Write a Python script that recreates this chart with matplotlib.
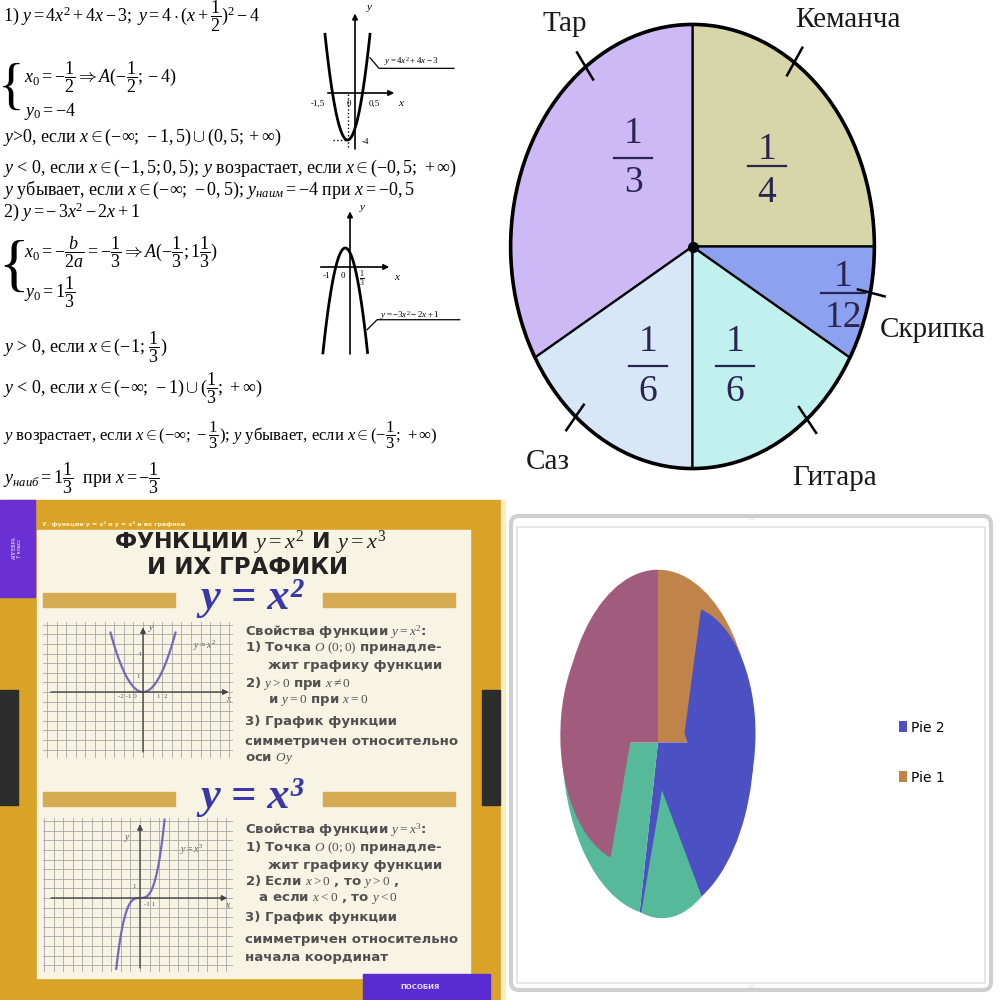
import matplotlib
matplotlib.use('Agg')
import matplotlib.pyplot as plt
from matplotlib.patches import Rectangle, Circle, FancyBboxPatch
import numpy as np

plt.rcParams['font.family'] = ['Liberation Serif', 'DejaVu Serif']
plt.rcParams['mathtext.fontset'] = 'custom'
plt.rcParams['mathtext.rm'] = 'Liberation Serif'
plt.rcParams['mathtext.it'] = 'Liberation Serif:italic'
plt.rcParams['mathtext.bf'] = 'Liberation Serif:bold'

# --- data ---
# top-right: доли инструментов (против часовой стрелки от 0°)
instr_names = ['Кеманча', 'Тар', 'Саз', 'Гитара', 'Скрипка']
instr_num = [1, 1, 1, 1, 1]
instr_den = [4, 3, 6, 6, 12]
instr_colors = ['#d7d6a8', '#cdb9f6', '#d7e7f8', '#c0f1ef', '#8ca1ef']
instr_tick_angle = [56, 126, 230, -51, -12]

# bottom-right: two overlaid pies (clockwise from 12 o'clock)
pie1_vals = [90, 101, 79, 90]
pie2_vals = [13.4, 132.6, 51, 163]
pie_colors = ['#c0834a', '#4b50c2', '#55b99a', '#a15c7d']

# mini plots
par1_x = np.linspace(-2.0, 1.0, 120)
par2_x = np.linspace(-1.9, 1.23, 120)
sq_x = np.linspace(-2.5, 2.5, 120)
cub_x = np.linspace(-1.76, 1.82, 120)

fig = plt.figure(figsize=(10, 10), dpi=100)
bg = fig.add_axes([0, 0, 1, 1])
bg.set_xlim(0, 1000)
bg.set_ylim(1000, 0)
bg.axis('off')


def px_axes(x0, y0, x1, y1):
    return fig.add_axes([x0 / 1000, 1 - y1 / 1000, (x1 - x0) / 1000, (y1 - y0) / 1000])


def mini_axes(box, origin, sx, sy):
    x0, y0, x1, y1 = box
    ox, oy = origin
    ax = px_axes(x0, y0, x1, y1)
    ax.set_xlim((x0 - ox) / sx, (x1 - ox) / sx)
    ax.set_ylim((oy - y1) / sy, (oy - y0) / sy)
    ax.patch.set_alpha(0)
    for s in ax.spines.values():
        s.set_visible(False)
    ax.tick_params(length=0, labelbottom=False, labelleft=False)
    return ax


def arrow(ax, p0, p1, color='k', lw=1.2):
    ax.annotate('', xy=p1, xytext=p0,
                arrowprops=dict(arrowstyle='-|>', lw=lw, color=color, mutation_scale=8))


# ================= top-left: решения =================
fs = 13
bg.text(3, 16, r"1) $y = 4x^2 + 4x - 3;\;y = 4\cdot(x + \dfrac{1}{2})^2 - 4$", fontsize=fs, va='center')
bg.text(-2, 90, '{', fontsize=40, va='center', ha='left', fontweight='light')
bg.text(24, 77, r"$x_0 = -\dfrac{1}{2} \Rightarrow A(-\dfrac{1}{2};-4)$", fontsize=fs, va='center')
bg.text(24, 112, r"$y_0 = -4$", fontsize=fs, va='center')
bg.text(3, 137, r"$y$>0, если $x \in (-\infty;\,-1,5) \cup (0,5;+\infty)$", fontsize=fs, va='center')
bg.text(3, 168, r"$y$ < 0, если $x \in (-1,5;0,5)$; $y$ возрастает, если $x \in (-0,5;\,+\infty)$",
        fontsize=fs, va='center')
bg.text(3, 190, r"$y$ убывает, если $x \in (-\infty;\,-0,5)$; $y_{наим} = -4$ при $x = -0,5$",
        fontsize=fs, va='center')
bg.text(3, 212, r"2) $y = -\,3x^2 - 2x + 1$", fontsize=fs, va='center')
bg.text(-2, 270, '{', fontsize=46, va='center', ha='left', fontweight='light')
bg.text(24, 252, r"$x_0 = -\dfrac{b}{2a} = -\dfrac{1}{3} \Rightarrow A(-\dfrac{1}{3};1\dfrac{1}{3})$",
        fontsize=fs, va='center')
bg.text(24, 292, r"$y_0 = 1\dfrac{1}{3}$", fontsize=fs, va='center')
bg.text(3, 347, r"$y$ > 0, если $x \in (-1;\,\dfrac{1}{3})$", fontsize=fs, va='center')
bg.text(3, 388, r"$y$ < 0, если $x \in (-\infty;\,-1) \cup (\dfrac{1}{3};\,+\infty)$", fontsize=fs, va='center')
bg.text(3, 435, r"$y$ возрастает, если $x \in (-\infty;\,-\dfrac{1}{3})$; $y$ убывает, если $x \in (-\dfrac{1}{3};\,+\infty)$",
        fontsize=12, va='center')
bg.text(3, 478, r"$y_{наиб} = 1\dfrac{1}{3}$  при $x = -\dfrac{1}{3}$", fontsize=fs, va='center')

# parabola 1
a1 = mini_axes((305, 5, 400, 155), (355, 93), 15, 11.75)
arrow(a1, (-2.0, 0), (2.8, 0))
arrow(a1, (0, -5.0), (0, 7.0))
a1.plot([-0.5, -0.5], [-4.6, 0], ls=':', color='k', lw=1)
a1.plot([-1.5, -0.5], [-4, -4], ls=':', color='k', lw=1)
a1.plot(par1_x, 4 * par1_x ** 2 + 4 * par1_x - 3, color='k', lw=2)
a1.plot([1.0, 1.6, 6.6], [3.0, 2.1, 2.1], color='k', lw=0.9, clip_on=False)
for t, x, y in [('-1,5', 318, 104), ('0', 349, 104), ('0,5', 374, 104), ('-4', 365, 142)]:
    bg.text(x, y, t, fontsize=6.5, ha='center', va='center')
bg.text(402, 104, '$x$', fontsize=8, ha='center', va='center')
bg.text(370, 8, '$y$', fontsize=8, ha='center', va='center')
bg.text(384, 62, r'$y = 4x^2 + 4x - 3$', fontsize=6.5, ha='left', va='center')

# parabola 2
a2 = mini_axes((315, 200, 400, 362), (350, 267), 14.25, 14.25)
arrow(a2, (-2.25, 0), (2.95, 0))
arrow(a2, (0, -6.3), (0, 4.1))
a2.plot(par2_x, -3 * par2_x ** 2 - 2 * par2_x + 1, color='k', lw=2)
a2.plot([1.2, 1.9, 7.7], [-4.4, -3.7, -3.7], color='k', lw=0.9, clip_on=False)
for t, x, y in [('-1', 326, 276), ('0', 343, 276)]:
    bg.text(x, y, t, fontsize=6.5, ha='center', va='center')
bg.text(362, 279, r'$\frac{1}{3}$', fontsize=8, ha='center', va='center')
bg.text(398, 278, '$x$', fontsize=8, ha='center', va='center')
bg.text(363, 208, '$y$', fontsize=8, ha='center', va='center')
bg.text(380, 316, r'$y = -3x^2 - 2x + 1$', fontsize=6.5, ha='left', va='center')

# ================= bottom-left: плакат =================
gold = '#d8a326'
bg.add_patch(Rectangle((0, 500), 500, 500, color=gold, zorder=0))
bg.add_patch(Rectangle((37, 530), 433, 448, color='#f8f4e4', zorder=1))
bg.add_patch(Rectangle((0, 500), 35, 97, color='#6a30d4', zorder=2))
bg.add_patch(Rectangle((0, 690), 18, 115, color='#2c2c2c', zorder=2))
bg.add_patch(Rectangle((482, 690), 18, 115, color='#2c2c2c', zorder=2))
bg.add_patch(Rectangle((363, 974), 127, 26, color='#5b2bd2', zorder=2))
for yb in (593, 792):
    bg.add_patch(Rectangle((43, yb), 132, 14, color='#d6aa50', zorder=2))
    bg.add_patch(Rectangle((323, yb), 132, 14, color='#d6aa50', zorder=2))
bg.text(17, 548, 'АЛГЕБРА\n7 класс', fontsize=3.5, color='white', rotation=90,
        ha='center', va='center', family='DejaVu Sans', zorder=3)
bg.text(42, 524, 'У. функции y = x² и y = x³ и их графики', fontsize=4.5, color='#fff3c0',
        va='center', family='DejaVu Sans', fontweight='bold', zorder=3)
bg.text(420, 987, 'ПОСОБИЯ', fontsize=5, color='#e8e0ff', ha='center', va='center',
        family='DejaVu Sans', fontweight='bold', zorder=3)

bg.text(250, 543, r'ФУНКЦИИ $y = x^2$ И $y = x^3$', fontsize=16, fontweight='bold',
        family='DejaVu Sans', color='#222222', ha='center', va='center', zorder=3)
bg.text(248, 568, 'И ИХ ГРАФИКИ', fontsize=16.5, fontweight='bold', family='DejaVu Sans',
        color='#222222', ha='center', va='center', zorder=3)
bg.text(252, 598, 'y = x²', fontsize=32, fontstyle='italic', fontweight='bold',
        color='#3838aa', ha='center', va='center', zorder=3)
bg.text(252, 797, 'y = x³', fontsize=32, fontstyle='italic', fontweight='bold',
        color='#3838aa', ha='center', va='center', zorder=3)

props_sq = [r'Свойства функции $y = x^2$:', r'1) Точка $O\ (0;0)$ принадле-', '     жит графику функции',
            r'2) $y > 0$ при $x \neq 0$', r'     и $y = 0$ при $x = 0$', '3) График функции',
            'симметричен относительно', r'оси $Oy$']
props_sq_y = [632, 648, 666, 684, 700, 722, 742, 758]
props_cb = [r'Свойства функции $y = x^3$:', r'1) Точка $O\ (0;0)$ принадле-', '     жит графику функции',
            r'2) Если $x > 0$ , то $y > 0$ ,', r'   а если $x < 0$ , то $y < 0$', '3) График функции',
            'симметричен относительно', 'начала координат']
props_cb_y = [830, 848, 866, 882, 898, 918, 940, 958]
for lines, ys in ((props_sq, props_sq_y), (props_cb, props_cb_y)):
    for t, y in zip(lines, ys):
        bg.text(245, y, t, fontsize=9.5, family='DejaVu Sans', fontweight='bold',
                color='#505050', va='center', zorder=3)


def grid_axes(box, origin, sx, sy):
    ax = mini_axes(box, origin, sx, sy)
    xs, ys = 9.6 / sx, 9.6 / sy
    ax.set_xticks(np.arange(-30, 30) * xs)
    ax.set_yticks(np.arange(-30, 30) * ys)
    ax.set_xlim((box[0] - origin[0]) / sx, (box[2] - origin[0]) / sx)
    ax.set_ylim((origin[1] - box[3]) / sy, (origin[1] - box[1]) / sy)
    ax.grid(True, color='#a6a6a6', lw=0.6)
    ax.set_axisbelow(True)
    return ax


g1 = grid_axes((43, 622, 233, 758), (143, 692), 13, 9.5)
arrow(g1, (-7.3, 0), (6.8, 0), color='#444444', lw=1)
arrow(g1, (0, -6.6), (0, 7.1), color='#444444', lw=1)
g1.plot(sq_x, sq_x ** 2, color='#7468b8', lw=1.6)
bg.text(205, 646, r'$y = x^2$', fontsize=7, color='#555555', ha='center', va='center', zorder=3)
bg.text(152, 628, '$y$', fontsize=7, color='#555555', ha='center', va='center', zorder=3)
bg.text(229, 700, '$x$', fontsize=7, color='#555555', ha='center', va='center', zorder=3)
bg.text(140, 654, '4', fontsize=5, color='#555555', ha='center', va='center', zorder=3)
bg.text(138, 677, '1', fontsize=5, color='#555555', ha='center', va='center', zorder=3)
bg.text(127, 697, '-2 -1 0', fontsize=5, color='#555555', ha='center', va='center', zorder=3)
bg.text(162, 697, '1  2', fontsize=5, color='#555555', ha='center', va='center', zorder=3)

g2 = grid_axes((43, 818, 233, 972), (140, 898), 13.5, 13)
arrow(g2, (-6.8, 0), (6.67, 0), color='#444444', lw=1)
arrow(g2, (0, -5.6), (0, 5.9), color='#444444', lw=1)
g2.plot(cub_x, cub_x ** 3, color='#7468b8', lw=1.6)
bg.text(192, 850, r'$y = x^3$', fontsize=7, color='#555555', ha='center', va='center', zorder=3)
bg.text(128, 838, '$y$', fontsize=7, color='#555555', ha='center', va='center', zorder=3)
bg.text(228, 905, '$x$', fontsize=7, color='#555555', ha='center', va='center', zorder=3)
bg.text(134, 886, '1', fontsize=5, color='#555555', ha='center', va='center', zorder=3)
bg.text(150, 905, '-1 1', fontsize=5, color='#555555', ha='center', va='center', zorder=3)

# ================= top-right: круговая диаграмма =================
pa = px_axes(507, 20, 878, 473)
fracs = [n / d for n, d in zip(instr_num, instr_den)]
pa.pie(fracs, colors=instr_colors, startangle=0, counterclock=True,
       wedgeprops=dict(edgecolor='k', linewidth=1.6))
pa.add_patch(Circle((0, 0), 1, fill=False, lw=2.6, color='k'))
pa.plot([0], [0], 'o', color='k', ms=7)
for ang in instr_tick_angle:
    r = np.radians(ang)
    pa.plot([0.93 * np.cos(r), 1.08 * np.cos(r)], [0.93 * np.sin(r), 1.08 * np.sin(r)],
            color='k', lw=1.8, clip_on=False)
pa.set_aspect('auto')
pa.set_xlim(-1.02, 1.02)
pa.set_ylim(-1.02, 1.02)

# ================= bottom-right: Pie 1 / Pie 2 =================
bg.add_patch(FancyBboxPatch((511, 516), 480, 474, boxstyle='round,pad=0,rounding_size=8',
                            fc='white', ec='#cfcfcf', lw=3, zorder=1))
bg.add_patch(Rectangle((517, 527), 468, 456, fill=False, ec='#e2e2e2', lw=1.2, zorder=1))
bg.add_patch(Rectangle((501, 500), 4, 500, color='#f6efc0', zorder=1))
for x, y, s in [(751, 519, '::::'), (751, 986, '::::')]:
    bg.text(x, y, s, fontsize=5, color='#aaaaaa', ha='center', va='center', zorder=2)

pb = px_axes(561, 568, 755, 917)
w1, _ = pb.pie(np.array(pie1_vals) / 360, colors=pie_colors, startangle=90, counterclock=False)
outline = Circle((0, 0), 1, fill=False, lw=0)
pb.add_patch(outline)
w2, _ = pb.pie(np.array(pie2_vals) / 360, colors=pie_colors, startangle=90, counterclock=False,
               radius=0.74, explode=[0.24, 0.28, 0.28, 0.28])
for w in w2:
    w.set_clip_path(outline)
pb.set_aspect('auto')
pb.set_xlim(-1.01, 1.01)
pb.set_ylim(-1.01, 1.01)
pb.legend([w2[1], w1[0]], ['Pie 2', 'Pie 1'], loc='upper left', bbox_to_anchor=(0.886, 0.292),
          bbox_transform=fig.transFigure, frameon=False, fontsize=8.5, handlelength=0.6,
          handleheight=0.8, handletextpad=0.3, labelspacing=2.6, prop={'family': 'DejaVu Sans'})

# ================= overlay: подписи поверх диаграммы =================
fg = fig.add_axes([0, 0, 1, 1])
fg.set_xlim(0, 1000)
fg.set_ylim(1000, 0)
fg.axis('off')
fg.patch.set_alpha(0)

name_pos = [(848, 20, 'center'), (565, 24, 'center'), (548, 462, 'center'),
            (835, 478, 'center'), (880, 330, 'left')]
for name, (x, y, ha) in zip(instr_names, name_pos):
    fg.text(x, y, name, fontsize=21, ha=ha, va='center', color='#1a1a1a')

frac_pos = [(767, 150, 166, 193), (633, 134, 158, 183), (648, 342, 366, 392),
            (735, 342, 366, 392), (843, 277, 293, 318)]
for n, d, (x, yn, yb, yd) in zip(instr_num, instr_den, frac_pos):
    fg.text(x, yn, str(n), fontsize=27, ha='center', va='center', color='#2a2450')
    fg.text(x, yd, str(d), fontsize=27, ha='center', va='center', color='#2a2450')
    hw = 19 if d < 10 else 22
    fg.plot([x - hw, x + hw], [yb, yb], color='#2a2450', lw=1.6)

fig.savefig('out.png', dpi=100)
